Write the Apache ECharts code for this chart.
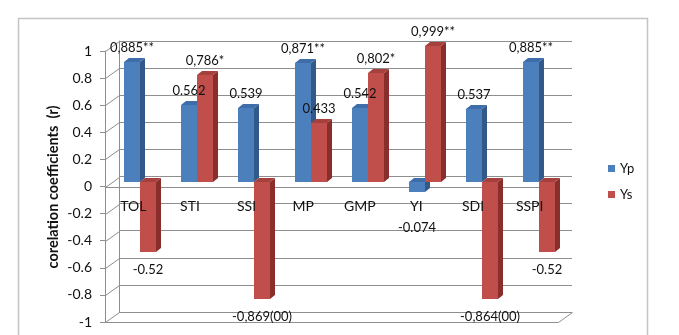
<!DOCTYPE html>
<html>
<head>
<meta charset="utf-8">
<script src="https://cdn.jsdelivr.net/npm/echarts@6/dist/echarts.min.js"></script>
<style>
  html, body { margin: 0; padding: 0; background: #fff; }
  #chart { width: 679px; height: 335px; }
</style>
</head>
<body>
<div id="chart"></div>
<script>
var categories = ['TOL', 'STI', 'SSI', 'MP', 'GMP', 'YI', 'SDI', 'SSPI'];
var ypValues = [0.885, 0.562, 0.539, 0.871, 0.542, -0.074, 0.537, 0.885];
var ysValues = [-0.52, 0.786, -0.869, 0.433, 0.802, 0.999, -0.864, -0.52];
var ypLabels = ['0,885**', '0.562', '0.539', '0,871**', '0.542', '-0.074', '0.537', '0,885**'];
var ysLabels = ['-0.52', '0,786*', '-0,869(00)', '0.433', '0,802*', '0,999**', '-0,864(00)', '-0.52'];
var yTickLabels = ['-1', '-0.8', '-0.6', '-0.4', '-0.2', '0', '0.2', '0.4', '0.6', '0.8', '1'];
var yTitle = 'corelation coefficients  (r)';

(function() {
  var font = 'Lato, "Liberation Sans", sans-serif';
  var gridColor = '#8e8e8e';
  var wallDx = 14, wallDy = -10;   // back wall offset from the front edge
  var barDx = 5, barDy = -4;       // depth of one bar

  var blue = { front: '#4c80bd', side: '#33598a', top: '#3e6daa' };
  var red = { front: '#c04e4b', side: '#8a2e2b', top: '#a6403d' };

  function crisp(v) { return Math.round(v) + 0.5; }

  function barRenderer(side, face, labels) {
    return function(params, api) {
      var i = api.value(0);
      var v = api.value(1);
      var band = api.size([1, 0])[0];
      var w = Math.round(band * 0.28);
      var p0 = api.coord([i, 0]);
      var p1 = api.coord([i, v]);
      var x0 = Math.round(side < 0 ? p0[0] - w : p0[0]);
      var x1 = x0 + w;
      var yTop = Math.round(Math.min(p0[1], p1[1]));
      var yBot = Math.round(Math.max(p0[1], p1[1]));
      // tiny negative bars: push the label clear of the category names
      var ly = v >= 0 ? yTop - 14 : yBot + (Math.abs(v) < 0.1 ? 36 : 18);
      return {
        type: 'group',
        children: [
          { type: 'polygon', shape: { points: [[x1, yTop], [x1 + barDx, yTop + barDy], [x1 + barDx, yBot + barDy], [x1, yBot]] },
            style: { fill: face.side } },
          { type: 'polygon', shape: { points: [[x0, yTop], [x1, yTop], [x1 + barDx, yTop + barDy], [x0 + barDx, yTop + barDy]] },
            style: { fill: face.top } },
          { type: 'rect', shape: { x: x0, y: yTop, width: w, height: yBot - yTop },
            style: { fill: face.front } },
          { type: 'text', z2: 100,
            style: { text: labels[i], x: x0 + w / 2, y: ly, align: 'center', verticalAlign: 'middle',
                     fontFamily: font, fontSize: 13, fill: '#111' } }
        ]
      };
    };
  }

  function frameRenderer(params, api) {
    var v = api.value(1);
    var cs = params.coordSys;
    var y = crisp(api.coord([0, v])[1]);
    var x = cs.x + 0.5;
    var st = { stroke: gridColor, lineWidth: 1 };
    var parts = [{ type: 'line', shape: { x1: x, y1: y, x2: x + wallDx, y2: y + wallDy }, style: st }];
    if (v === 0 || v === -1) {
      parts.push({ type: 'line', shape: { x1: x, y1: y, x2: x + cs.width, y2: y }, style: st });
    }
    if (v === -1) {
      parts.push({ type: 'line', shape: { x1: x + cs.width, y1: y, x2: x + cs.width + wallDx, y2: y + wallDy }, style: st });
    }
    return { type: 'group', children: parts };
  }

  var chart = echarts.init(document.getElementById('chart'), null, { renderer: 'canvas' });
  chart.setOption({
    animation: false,
    backgroundColor: '#fff',
    color: [blue.front, red.front],
    textStyle: { fontFamily: font },
    graphic: [
      {
        type: 'rect', silent: true,
        shape: { x: 18.5, y: 18.5, width: 629, height: 340 },
        style: { fill: 'none', stroke: '#c4c4c4', lineWidth: 1.5 }
      },
      {
        type: 'text', silent: true,
        x: 53, y: 187, rotation: Math.PI / 2,
        style: { text: yTitle, align: 'center', verticalAlign: 'middle',
                 fontFamily: font, fontWeight: 'bold', fontSize: 14.5, fill: '#111' }
      }
    ],
    legend: {
      data: ['Yp', 'Ys'],
      orient: 'vertical',
      left: 603,
      top: 157,
      itemWidth: 7,
      itemHeight: 7,
      itemGap: 13,
      icon: 'rect',
      textStyle: { fontFamily: font, fontSize: 13, color: '#111' }
    },
    grid: [
      { left: 119, right: 107, top: 41, bottom: 23, outerBoundsMode: 'none' },  // back wall
      { left: 111, right: 112, top: 46, bottom: 18, outerBoundsMode: 'none' },  // bars
      { left: 105, right: 121, top: 51, bottom: 13, outerBoundsMode: 'none' },  // front edge
      { left: 105, right: 121, top: 51, bottom: 149, outerBoundsMode: 'none' }  // category labels, bottom at zero
    ],
    xAxis: [
      { gridIndex: 0, type: 'category', data: categories, show: false },
      { gridIndex: 1, type: 'category', data: categories, show: false },
      { gridIndex: 2, type: 'category', data: categories, show: false },
      { gridIndex: 3, type: 'category', data: categories, z: 10,
        axisLine: { show: false },
        axisTick: { show: false },
        axisLabel: { margin: 13, fontFamily: font, fontSize: 14, color: '#111' } }
    ],
    yAxis: [
      { gridIndex: 0, type: 'value', min: -1, max: 1, interval: 0.2,
        axisLine: { show: true, lineStyle: { color: gridColor } },
        axisTick: { show: false }, axisLabel: { show: false },
        splitLine: { show: true, lineStyle: { color: gridColor } } },
      { gridIndex: 1, type: 'value', min: -1, max: 1, interval: 0.2, show: false },
      { gridIndex: 2, type: 'value', min: -1, max: 1, interval: 0.2,
        axisLine: { show: true, lineStyle: { color: gridColor } },
        axisTick: { show: true, length: 5, lineStyle: { color: gridColor } },
        axisLabel: { margin: 13, fontFamily: font, fontSize: 14, color: '#111',
          formatter: function(val, idx) { return yTickLabels[idx]; } },
        splitLine: { show: false } },
      { gridIndex: 3, type: 'value', show: false }
    ],
    series: [
      {
        name: 'frame', type: 'custom', xAxisIndex: 2, yAxisIndex: 2, z: 1, silent: true, clip: false,
        renderItem: frameRenderer,
        encode: { x: 0, y: 1 },
        data: yTickLabels.map(function(s) { return [0, parseFloat(s)]; })
      },
      {
        name: 'Yp', type: 'custom', xAxisIndex: 1, yAxisIndex: 1, z: 2, clip: false,
        itemStyle: { color: blue.front },
        renderItem: barRenderer(-1, blue, ypLabels),
        encode: { x: 0, y: 1 },
        data: ypValues.map(function(v, i) { return [i, v]; })
      },
      {
        name: 'Ys', type: 'custom', xAxisIndex: 1, yAxisIndex: 1, z: 2, clip: false,
        itemStyle: { color: red.front },
        renderItem: barRenderer(1, red, ysLabels),
        encode: { x: 0, y: 1 },
        data: ysValues.map(function(v, i) { return [i, v]; })
      }
    ]
  });

  window.addEventListener('resize', function() {
    chart.resize();
  });
})();
</script>
</body>
</html>
